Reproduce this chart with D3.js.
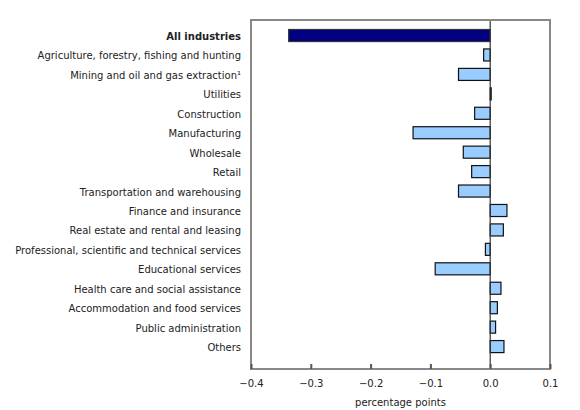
<!DOCTYPE html>
<html><head><meta charset="utf-8">
<script src="https://cdn.jsdelivr.net/npm/d3@7"></script>
<style>body{margin:0;background:#fff}svg{display:block}text{font-family:"DejaVu Sans",Verdana,sans-serif}</style>
</head><body><svg id="c" width="580" height="410"></svg>
<script>
const categories = ["All industries","Agriculture, forestry, fishing and hunting","Mining and oil and gas extraction\u00B9","Utilities","Construction","Manufacturing","Wholesale","Retail","Transportation and warehousing","Finance and insurance","Real estate and rental and leasing","Professional, scientific and technical services","Educational services","Health care and social assistance","Accommodation and food services","Public administration","Others"];
const values = [-0.337,-0.011,-0.053,0.001,-0.026,-0.129,-0.045,-0.031,-0.053,0.028,0.022,-0.008,-0.092,0.018,0.012,0.009,0.023];
const xTicks = [-0.4,-0.3,-0.2,-0.1,0.0,0.1];
const xTitle = "percentage points";

const svg = d3.select("#c");
const L = 251, R = 550, T = 20, B = 369;
const x = d3.scaleLinear().domain([-0.4,0.1]).range([L,R]);
const y = d3.scaleBand().domain(categories).range([25.8,356.3]).paddingInner(0.38).paddingOuter(0.19);

// bars
svg.append("g").selectAll("rect").data(values).join("rect")
  .attr("x",(d)=>x(Math.min(0,d)))
  .attr("y",(d,i)=>y(categories[i]))
  .attr("width",(d)=>Math.max(1,Math.abs(x(d)-x(0))))
  .attr("height",y.bandwidth())
  .attr("fill",(d,i)=>i===0?"#000080":"#99ccff")
  .attr("stroke",(d,i)=>i===0?"#333":"#111")
  .attr("stroke-width",1.2);

// zero line
svg.append("line").attr("x1",x(0)).attr("x2",x(0)).attr("y1",T).attr("y2",B)
  .attr("stroke","#333").attr("stroke-width",1.2);

// frame
svg.append("rect").attr("x",L).attr("y",T).attr("width",R-L).attr("height",B-T)
  .attr("fill","none").attr("stroke","#888").attr("stroke-width",2);

// x axis
const ax = svg.append("g").attr("transform",`translate(0,${B})`)
  .call(d3.axisBottom(x).tickValues(xTicks).tickFormat(d3.format(".1f")).tickSizeInner(-5).tickSizeOuter(0).tickPadding(11));
ax.select(".domain").remove();
ax.selectAll(".tick line").attr("stroke","#555").attr("stroke-width",2);
ax.selectAll(".tick text").attr("font-size",10).attr("fill","#222").attr("font-family","DejaVu Sans, Verdana, sans-serif");

svg.append("text").attr("x",x(-0.15)).attr("y",406).attr("text-anchor","middle")
  .attr("font-size",10).attr("fill","#222").text(xTitle);

// category labels
svg.append("g").selectAll("text").data(categories).join("text")
  .attr("x",241).attr("y",(d)=>y(d)+y.bandwidth()/2+1).attr("dy","0.35em")
  .attr("text-anchor","end").attr("font-size",10).attr("fill","#222")
  .attr("font-weight",(d,i)=>i===0?"bold":"normal").text((d)=>d);
</script></body></html>
